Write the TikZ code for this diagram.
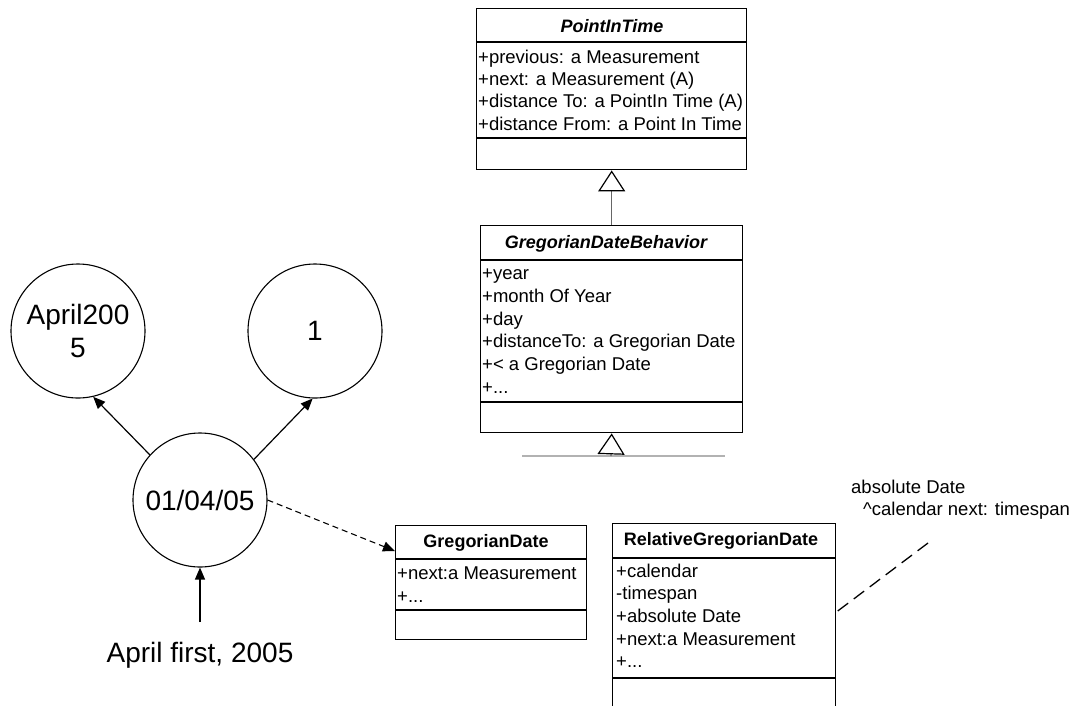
\documentclass[tikz,border=0pt]{standalone}
\usepackage{fontspec}
\setmainfont{Liberation Sans}
\usetikzlibrary{arrows.meta,calc}
\newcommand{\attrfont}{\fontsize{18.5}{22}\selectfont}
\newcommand{\hdrfont}{\fontsize{18}{22}\selectfont\bfseries}
\newcommand{\bigfont}{\fontsize{28}{33}\selectfont}
\tikzset{
  cls/.style={draw, line width=1.4pt, inner sep=0pt, anchor=north west},
  attr/.style={anchor=base west, inner sep=0pt, font=\attrfont},
  hdr/.style={anchor=base, inner sep=0pt, font=\hdrfont},
  circ/.style={draw, circle, line width=1.1pt, minimum size=134pt, inner sep=0pt, font=\bigfont, align=center},
  arr/.style={-{Triangle[length=12pt,width=10pt]}, line width=1.2pt},
  inh/.style={-{Triangle[open,color=black,length=21pt,width=27pt,line width=1.2pt]}, line width=1.1pt, draw=black!60},
  sep/.style={line width=1.4pt},
}
\begin{document}
\begin{tikzpicture}[x=1pt,y=-1pt]
\useasboundingbox (0,0) rectangle (1082,705);

% PointInTime
\node[cls, minimum width=270pt, minimum height=161pt] (pit) at (476,8) {};
\draw[sep] (476,42) -- (746,42);
\draw[sep] (476,138) -- (746,138);
\node[hdr] (pith) at (612,32) {\itshape PointInTime};
\node[attr] (pit1) at (478,63) {+previous: a Measurement};
\node[attr] (pit2) at (478,85) {+next: a Measurement (A)};
\node[attr] (pit3) at (478,107) {+distance To: a PointIn Time (A)};
\node[attr] (pit4) at (478,130) {+distance From: a Point In Time};

% GregorianDateBehavior
\node[cls, minimum width=262pt, minimum height=207pt] (gdb) at (480,225) {};
\draw[sep] (480,260) -- (742,260);
\draw[sep] (480,402) -- (742,402);
\node[hdr] (gdbh) at (606,248) {\itshape GregorianDateBehavior};
\node[attr] (gdb1) at (482,279) {+year};
\node[attr] (gdb2) at (482,302) {+month Of Year};
\node[attr] (gdb3) at (482,325) {+day};
\node[attr] (gdb4) at (482,347) {+distanceTo: a Gregorian Date};
\node[attr] (gdb5) at (482,370) {+< a Gregorian Date};
\node[attr] (gdb6) at (482,393) {+...};

% inheritance arrows
\draw[inh] (gdb.north) -- (pit.south);
\draw[line width=1.2pt, draw=black!30] (522,456) -- (725,456);
\coordinate (gbase) at (611,456);
\draw[inh] (gbase) -- (gdb.south);

% GregorianDate
\node[cls, minimum width=191pt, minimum height=114pt] (gd) at (395,525) {};
\draw[sep] (395,559) -- (586,559);
\draw[sep] (395,610) -- (586,610);
\node[hdr] (gdh) at (486,547) {GregorianDate};
\node[attr] (gd1) at (397,579) {+next:a Measurement};
\node[attr] (gd2) at (397,602) {+...};

% RelativeGregorianDate
\node[cls, minimum width=223pt, minimum height=200pt] (rgd) at (612,523) {};
\draw[sep] (612,558) -- (835,558);
\draw[sep] (612,678) -- (835,678);
\node[hdr] (rgdh) at (721,545) {RelativeGregorianDate};
\node[attr] (rgd1) at (616,577) {+calendar};
\node[attr] (rgd2) at (616,599) {-timespan};
\node[attr] (rgd3) at (616,622) {+absolute Date};
\node[attr] (rgd4) at (616,645) {+next:a Measurement};
\node[attr] (rgd5) at (616,667) {+...};

% note
\node[attr] (n1) at (851,493) {absolute Date};
\node[attr] (n2) at (863,515) {\textasciicircum calendar next: timespan};
\coordinate (nend) at (928,543);
\draw[line width=1.3pt, dash pattern=on 13pt off 7pt] (nend) -- ([yshift=-89pt]rgd.north east);

% circles
\node[circ] (ap) at (78,331) {April200\\5};
\node[circ] (one) at (315,331) {1};
\node[circ] (d) at (200,500) {01/04/05};
\node[anchor=base, inner sep=0pt, font=\bigfont] (lbl) at (200,662) {April first, 2005};
\coordinate (lbltop) at (200,622);

\draw[arr] (d.138) -- (ap.-77);
\draw[arr] (d.37) -- (one.-92);
\draw[arr] (lbltop) -- (d.south);
\draw[arr, line width=1.1pt, dash pattern=on 6pt off 4pt] (d.east) -- ([yshift=-26pt]gd.north west);
\end{tikzpicture}
\end{document}
